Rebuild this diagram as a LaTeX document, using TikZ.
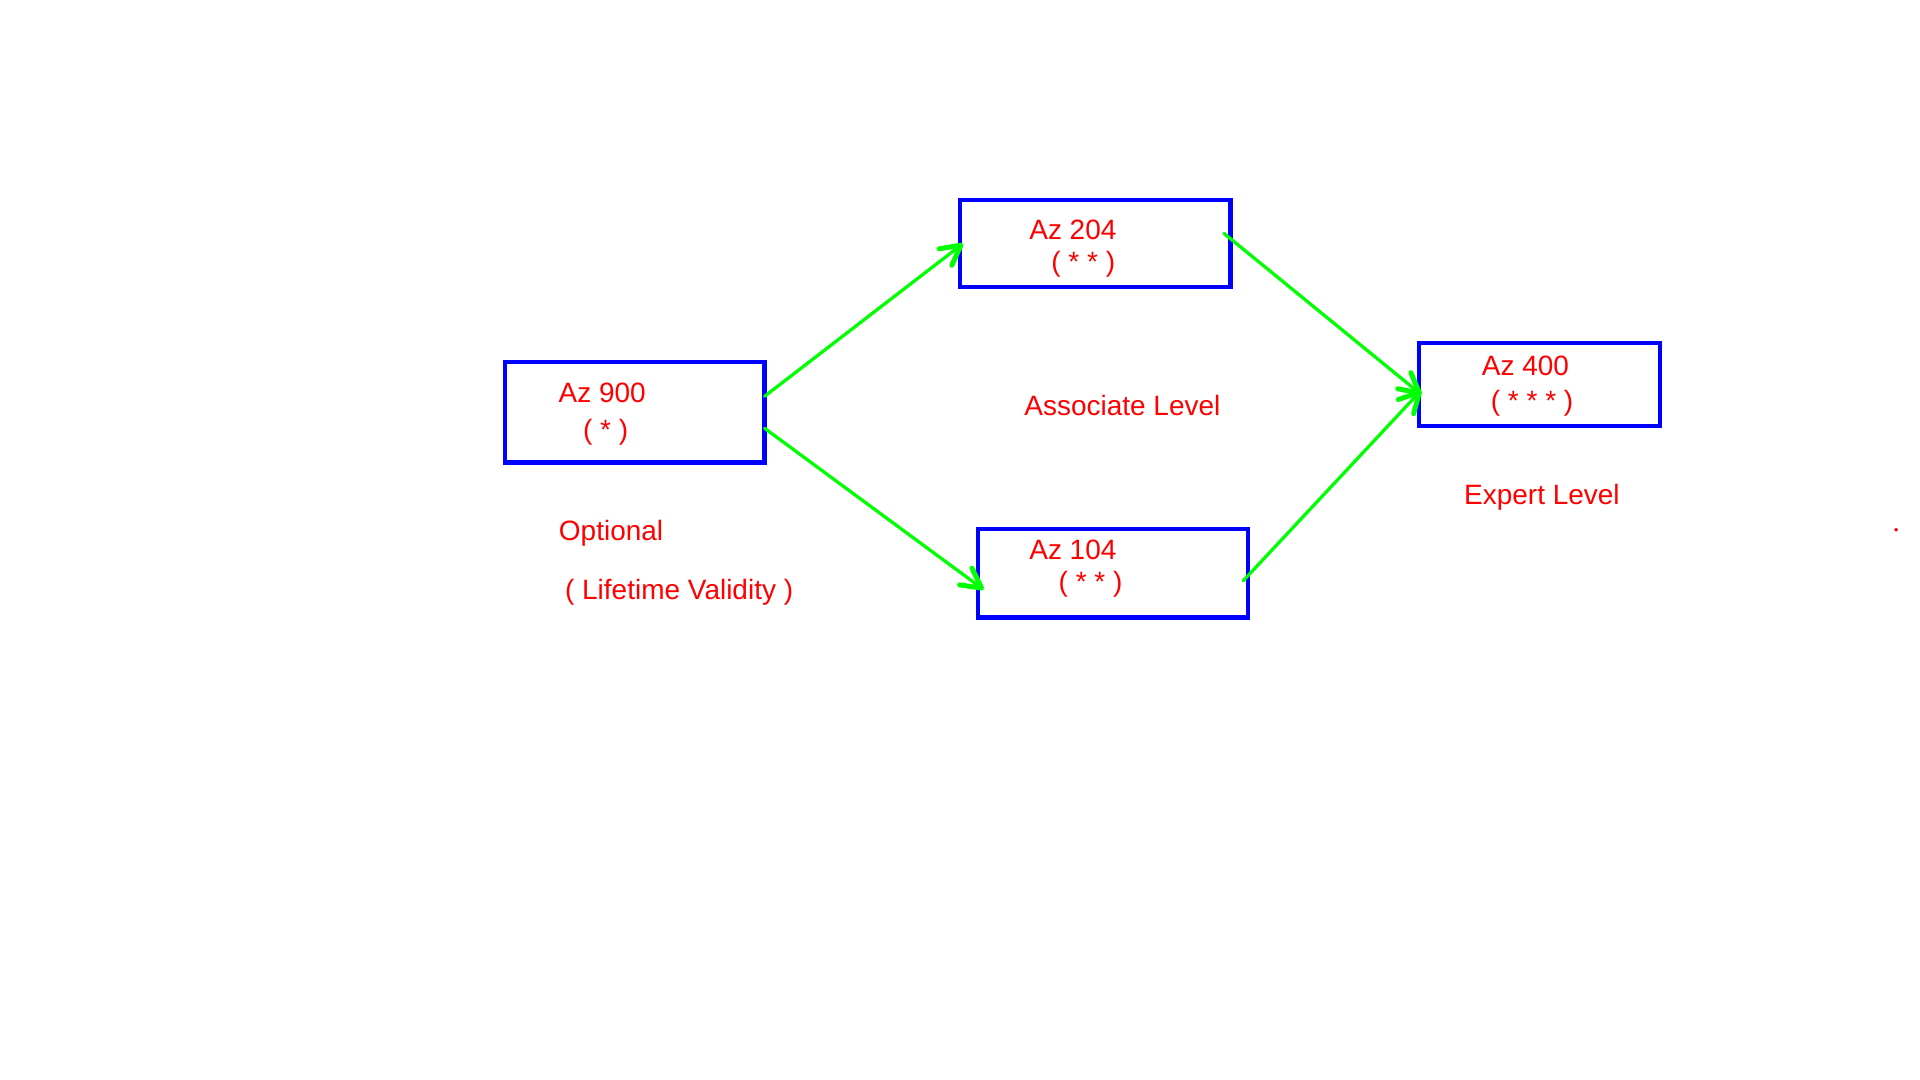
\documentclass[tikz,border=0pt]{standalone}
\usepackage{fontspec}
\setmainfont{Liberation Sans}
\usetikzlibrary{arrows.meta}
\begin{document}
\begin{tikzpicture}[x=0.02cm,y=-0.02cm,
 box/.style={draw=blue,line width=2pt,inner sep=0pt,outer sep=0pt},
 lbl/.style={text=red,anchor=base west,inner sep=0pt,font=\fontsize{13}{15}\selectfont},
 link/.style={green,line width=1.5pt,line cap=round,-{Straight Barb[length=3.2mm,width=3.4mm,line width=2.3pt,round]}}]
 \useasboundingbox (0,0) rectangle (1567.5,881.7);
 \node[box,minimum width=4.244cm,minimum height=1.644cm] (az900) at (518.1,336.6) {};
 \node[box,minimum width=4.418cm,minimum height=1.41cm] (az204) at (894.2,198.8) {};
 \node[box,minimum width=4.414cm,minimum height=1.442cm] (az104) at (908.5,468.1) {};
 \node[box,minimum width=3.932cm,minimum height=1.36cm] (az400) at (1256.75,313.75) {};
 \node[lbl] (t900) at (455.7,328.3) {Az 900};
 \node[lbl] (s900) at (475.7,359) {( * )};
 \node[lbl] (t204) at (840,195.8) {Az 204};
 \node[lbl] (s204) at (858,221.5) {( * * )};
 \node[lbl] (t104) at (840,457) {Az 104};
 \node[lbl] (s104) at (864,482.6) {( * * )};
 \node[lbl] (t400) at (1209.5,306.5) {Az 400};
 \node[lbl] (s400) at (1216.8,335.2) {( * * * )};
 \node[lbl] (assoc) at (836,339.5) {Associate Level};
 \node[lbl] (expert) at (1195,412) {Expert Level};
 \node[lbl] (opt) at (456,441.2) {Optional};
 \node[lbl] (life) at (461,489.6) {( Lifetime Validity )};
 \fill[red] (1548,432.5) circle (1.6);
 \draw[link,shorten >=-0.6mm] (az900.7) -- (az204.181);
 \draw[link,shorten >=-1.2mm] (az900.353) -- (az104.185);
 \draw[link,shorten <=-1.4mm,shorten >=-0.5mm] (az204.2) -- (az400.184);
 \draw[link,shorten <=-1.1mm,shorten >=-0.5mm] (az104.359) -- (az400.184);
\end{tikzpicture}
\end{document}
